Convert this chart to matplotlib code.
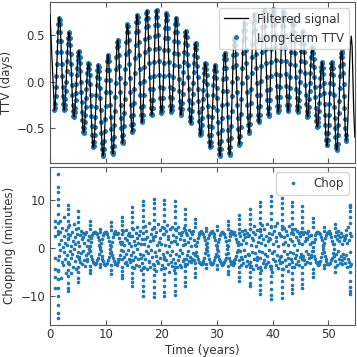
import numpy as np
import matplotlib
matplotlib.use("Agg")
import matplotlib.pyplot as plt

# long-term TTV, one value per transit (days)
ttv_first = 0.796       # years
ttv_cadence = 0.072833  # years between transits
ttv_days = [
    -0.31, -0.29, -0.24, -0.16, -0.06, 0.06, 0.19, 0.32, 0.44, 0.54, 0.62, 0.67,
    0.69, 0.67, 0.62, 0.54, 0.44, 0.32, 0.19, 0.06, -0.06, -0.16, -0.24, -0.29,
    -0.31, -0.30, -0.25, -0.19, -0.10, 0.00, 0.11, 0.22, 0.32, 0.41, 0.47, 0.52,
    0.53, 0.52, 0.47, 0.40, 0.30, 0.19, 0.08, -0.04, -0.15, -0.25, -0.32, -0.37,
    -0.38, -0.37, -0.33, -0.28, -0.20, -0.12, -0.03, 0.07, 0.15, 0.23, 0.28, 0.32,
    0.33, 0.32, 0.27, 0.20, 0.11, 0.00, -0.11, -0.22, -0.33, -0.42, -0.49, -0.54,
    -0.55, -0.54, -0.50, -0.44, -0.36, -0.27, -0.18, -0.08, 0.01, 0.09, 0.15, 0.19,
    0.20, 0.19, 0.14, 0.07, -0.03, -0.14, -0.26, -0.37, -0.48, -0.58, -0.65, -0.70,
    -0.71, -0.70, -0.65, -0.58, -0.49, -0.38, -0.27, -0.15, -0.04, 0.05, 0.12, 0.17,
    0.18, 0.16, 0.11, 0.04, -0.07, -0.18, -0.31, -0.44, -0.56, -0.66, -0.73, -0.78,
    -0.80, -0.78, -0.73, -0.64, -0.53, -0.40, -0.26, -0.11, 0.02, 0.13, 0.22, 0.27,
    0.29, 0.27, 0.22, 0.13, 0.02, -0.11, -0.25, -0.38, -0.51, -0.62, -0.71, -0.76,
    -0.78, -0.76, -0.70, -0.60, -0.47, -0.32, -0.17, -0.01, 0.14, 0.27, 0.37, 0.43,
    0.45, 0.43, 0.38, 0.29, 0.17, 0.04, -0.11, -0.25, -0.39, -0.50, -0.59, -0.65,
    -0.665, -0.64, -0.58, -0.48, -0.34, -0.19, -0.02, 0.14, 0.30, 0.43, 0.53, 0.60,
    0.62, 0.60, 0.54, 0.45, 0.33, 0.19, 0.04, -0.11, -0.25, -0.37, -0.47, -0.53,
    -0.545, -0.52, -0.46, -0.36, -0.23, -0.08, 0.09, 0.25, 0.40, 0.53, 0.64, 0.70,
    0.72, 0.70, 0.64, 0.55, 0.43, 0.29, 0.14, -0.01, -0.15, -0.27, -0.36, -0.42,
    -0.44, -0.42, -0.36, -0.26, -0.14, 0.01, 0.16, 0.32, 0.46, 0.59, 0.68, 0.74,
    0.765, 0.75, 0.69, 0.60, 0.48, 0.35, 0.20, 0.05, -0.08, -0.20, -0.29, -0.35,
    -0.365, -0.35, -0.29, -0.20, -0.08, 0.06, 0.21, 0.35, 0.49, 0.61, 0.70, 0.76,
    0.775, 0.76, 0.70, 0.61, 0.50, 0.36, 0.22, 0.07, -0.06, -0.18, -0.27, -0.32,
    -0.34, -0.32, -0.27, -0.18, -0.07, 0.06, 0.20, 0.34, 0.47, 0.58, 0.67, 0.72,
    0.74, 0.72, 0.67, 0.58, 0.47, 0.34, 0.21, 0.07, -0.06, -0.17, -0.26, -0.31,
    -0.33, -0.31, -0.26, -0.18, -0.08, 0.05, 0.18, 0.31, 0.44, 0.54, 0.62, 0.67,
    0.69, 0.67, 0.62, 0.54, 0.43, 0.30, 0.17, 0.03, -0.10, -0.21, -0.29, -0.34,
    -0.36, -0.35, -0.30, -0.23, -0.13, -0.02, 0.10, 0.21, 0.32, 0.42, 0.49, 0.54,
    0.55, 0.53, 0.48, 0.40, 0.30, 0.18, 0.05, -0.08, -0.20, -0.30, -0.38, -0.43,
    -0.45, -0.44, -0.39, -0.32, -0.23, -0.13, -0.02, 0.10, 0.20, 0.29, 0.36, 0.41,
    0.42, 0.40, 0.35, 0.27, 0.17, 0.05, -0.08, -0.21, -0.33, -0.43, -0.51, -0.56,
    -0.58, -0.57, -0.53, -0.47, -0.39, -0.29, -0.19, -0.09, 0.01, 0.09, 0.15, 0.19,
    0.20, 0.19, 0.14, 0.07, -0.03, -0.14, -0.26, -0.37, -0.48, -0.58, -0.65, -0.70,
    -0.71, -0.70, -0.65, -0.58, -0.49, -0.38, -0.27, -0.15, -0.04, 0.05, 0.12, 0.17,
    0.18, 0.16, 0.11, 0.04, -0.07, -0.18, -0.31, -0.44, -0.56, -0.66, -0.73, -0.78,
    -0.80, -0.78, -0.73, -0.64, -0.52, -0.39, -0.25, -0.10, 0.03, 0.15, 0.24, 0.29,
    0.31, 0.29, 0.24, 0.15, 0.04, -0.10, -0.24, -0.38, -0.52, -0.63, -0.72, -0.77,
    -0.79, -0.77, -0.71, -0.61, -0.48, -0.32, -0.16, 0.00, 0.16, 0.29, 0.39, 0.45,
    0.47, 0.45, 0.39, 0.30, 0.18, 0.04, -0.11, -0.25, -0.39, -0.51, -0.60, -0.66,
    -0.68, -0.66, -0.59, -0.49, -0.35, -0.19, -0.02, 0.15, 0.31, 0.45, 0.55, 0.62,
    0.64, 0.62, 0.56, 0.47, 0.34, 0.20, 0.05, -0.11, -0.25, -0.38, -0.47, -0.53,
    -0.55, -0.53, -0.46, -0.36, -0.23, -0.08, 0.09, 0.26, 0.41, 0.54, 0.64, 0.71,
    0.73, 0.71, 0.65, 0.56, 0.44, 0.30, 0.15, -0.01, -0.15, -0.27, -0.36, -0.42,
    -0.44, -0.42, -0.36, -0.26, -0.14, 0.01, 0.17, 0.32, 0.47, 0.59, 0.69, 0.75,
    0.77, 0.75, 0.69, 0.60, 0.49, 0.35, 0.20, 0.05, -0.09, -0.20, -0.29, -0.35,
    -0.37, -0.35, -0.29, -0.20, -0.08, 0.06, 0.21, 0.35, 0.49, 0.61, 0.70, 0.76,
    0.78, 0.76, 0.71, 0.62, 0.50, 0.37, 0.23, 0.08, -0.05, -0.17, -0.26, -0.31,
    -0.33, -0.31, -0.26, -0.17, -0.06, 0.07, 0.22, 0.36, 0.49, 0.60, 0.69, 0.74,
    0.76, 0.74, 0.69, 0.60, 0.49, 0.36, 0.22, 0.08, -0.05, -0.16, -0.25, -0.30,
    -0.32, -0.30, -0.25, -0.17, -0.07, 0.05, 0.19, 0.32, 0.44, 0.54, 0.62, 0.67,
    0.69, 0.67, 0.62, 0.54, 0.44, 0.31, 0.18, 0.05, -0.08, -0.18, -0.26, -0.31,
    -0.33, -0.32, -0.27, -0.20, -0.11, 0.00, 0.11, 0.22, 0.33, 0.42, 0.49, 0.54,
    0.55, 0.53, 0.49, 0.41, 0.32, 0.21, 0.09, -0.04, -0.15, -0.24, -0.32, -0.36,
    -0.38, -0.37, -0.33, -0.27, -0.19, -0.10, -0.01, 0.09, 0.18, 0.26, 0.32, 0.36,
    0.37, 0.36, 0.31, 0.24, 0.16, 0.05, -0.06, -0.17, -0.28, -0.36, -0.43, -0.48,
    -0.49, -0.48, -0.44, -0.39, -0.32, -0.23, -0.14, -0.05, 0.04, 0.11, 0.16, 0.20,
    0.21, 0.20, 0.15, 0.08, -0.02, -0.12, -0.24, -0.36, -0.47, -0.56, -0.63, -0.68,
    -0.69, -0.68, -0.63, -0.56, -0.47, -0.36, -0.24, -0.12, -0.02, 0.08, 0.15, 0.20,
    0.21, 0.19, 0.15, 0.07, -0.03, -0.14, -0.27, -0.39, -0.50, -0.60, -0.68, -0.72,
    -0.74, -0.72, -0.67, -0.58, -0.47, -0.34, -0.21, -0.07, 0.06, 0.17, 0.26, 0.31,
    0.33, 0.31, 0.27, 0.19, 0.09, -0.03, -0.16, -0.28, -0.40, -0.50, -0.58, -0.62,
    -0.64,
]

# filtered signal runs a bit past the transits at both ends
filt_head_t = [0.0]
filt_head_v = [0.72]
filt_tail_t = [53.39, 53.53, 53.68, 53.82, 53.97, 54.11, 54.26, 54.40, 54.55, 54.75]
filt_tail_v = [-0.564, -0.36, -0.075, 0.21, 0.414, 0.49, 0.38, 0.05, -0.32, -0.60]

# chopping: narrow bursts roughly every 1.9 yr
stripe_t = [0.95, 1.4, 3.3, 5.1, 7.1, 9.0, 11.0, 12.9, 14.8, 16.7, 18.6, 20.5, 22.4, 24.3,
            26.1, 28.0, 30.0, 32.0, 33.9, 35.9, 37.8, 39.7, 41.6, 43.4, 45.3, 47.3,
            49.2, 51.1, 53.8]
stripe_v = [
    [5.5, 4.3, 2.5, -2.1, -4.4, -6.0, -8.4],
    [15.4, 12.6, 11.6, 10.2, 8.9, 7.0, 5.2, 3.5, -2.5, -4.8, -6.4, -8.3, -10.0, -11.8, -13.4, -14.5],
    [9.0, 8.1, 7.0, 5.6, 4.3, 2.8, -3.0, -4.5, -5.9, -7.2, -8.3, -8.9],
    [7.6, 6.5, 5.4, 4.1, -3.9, -5.0, -6.2, -7.1],
    [5.6, 4.8, 4.0, -3.8, -4.6, -5.3],
    [4.0, 3.4, -3.3, -3.9],
    [5.4, 4.6, 3.8, -3.6, -4.5, -5.4],
    [6.4, 5.6, 4.7, 3.8, -3.9, -4.8, -5.7, -6.3],
    [8.4, 7.5, 6.4, 5.3, 4.2, -4.0, -5.2, -6.3, -7.1, -7.8],
    [9.8, 8.9, 7.8, 6.7, 5.5, 4.3, -4.1, -5.5, -6.6, -7.9, -9.0, -9.9],
    [10.2, 9.3, 8.2, 7.0, 5.7, 4.4, -4.3, -5.6, -6.9, -8.1, -9.3, -10.1],
    [10.0, 9.1, 8.0, 6.8, 5.5, 4.2, -4.2, -5.4, -6.7, -7.9, -9.1, -10.0],
    [9.8, 8.8, 7.6, 6.4, 5.1, 3.9, -4.0, -5.2, -6.5, -7.7, -8.9, -9.7],
    [8.0, 7.0, 5.9, 4.8, 3.8, -3.7, -4.8, -6.0, -7.0, -8.0],
    [6.0, 5.2, 4.4, -4.2, -5.1, -6.0],
    [4.2, 3.5, -3.4, -4.1],
    [4.5, 3.7, -3.6, -4.4],
    [5.6, 4.8, 4.0, -3.8, -4.7, -5.5],
    [6.8, 5.9, 4.9, 3.9, -4.0, -5.0, -6.0, -6.8],
    [8.1, 7.1, 6.0, 4.9, 3.9, -3.9, -5.0, -6.1, -7.2, -8.0],
    [9.6, 8.6, 7.5, 6.3, 5.1, 4.0, -4.0, -5.2, -6.4, -7.6, -8.7, -9.5],
    [10.8, 9.8, 8.6, 7.3, 6.0, 4.6, -4.4, -5.8, -7.1, -8.5, -9.7, -10.6],
    [10.4, 9.4, 8.3, 7.1, 5.8, 4.5, -4.3, -5.6, -6.9, -8.2, -9.3, -10.3],
    [9.6, 8.6, 7.5, 6.3, 5.0, 3.9, -3.9, -5.1, -6.4, -7.6, -8.6, -9.4],
    [8.6, 7.6, 6.5, 5.3, 4.2, -4.0, -5.2, -6.4, -7.5, -8.4],
    [6.2, 5.3, 4.4, -4.3, -5.2, -6.0],
    [4.3, 3.6, -3.5, -4.2],
    [5.0, 4.2, -4.0, -4.9],
    [9.0, 8.4, 7.6, 6.5, 5.2, -5.0, -6.8, -8.2, -9.0, -9.6],
]

# chopping: the dense band near zero, one value per transit (minutes)
band_first = 1.4
band_cadence = 0.0795
band_v = [
    2.8, -4.6, 0.9, -1.7, 5.6, -0.4, 3.3, -6.2, 1.6, -2.9, 4.1, 0.2, -3.6, 2.4, -0.9, 6.4, -2.2, 1.1, -5.1, 3.7, -1.4, 0.6, -3.1, 2.0,
    1.9, -3.3, 4.7, -0.6, 2.6, -2.1, 0.3, -5.3, 3.4, -1.2, 1.4, -3.9, 5.0, -0.2, 2.2, -2.7, 0.8, -4.4, 3.9, -1.6, 2.9, -0.9, 1.2, -2.4,
    0.5, -1.9, 2.7, -2.9, 3.6, -1.1, 1.8, -3.4, 2.3, -0.7, 3.1, -2.5, 1.0, -3.7, 2.9, -1.5, 3.4, -2.2, 0.4, -2.8, 1.7, -1.0, 2.4, -0.3,
    0.3, -0.7, 1.2, -1.6, 2.0, -2.3, 2.6, -2.9, 3.1, -3.2, 3.4, -3.4, 3.4, -3.4, 3.2, -3.1, 2.9, -2.6, 2.3, -2.0, 1.6, -1.2, 0.7, -0.3,
    0.2, -0.7, 1.1, -1.6, 1.9, -2.3, 2.6, -2.8, 3.1, -3.3, 3.4, -3.5, 3.4, -3.3, 3.3, -3.1, 2.8, -2.6, 2.3, -1.9, 1.5, -1.1, 0.7, -0.2,
    0.4, -0.9, 1.3, -1.5, 2.2, -2.1, 2.8, -2.7, 3.0, -3.3, 3.6, -3.1, 3.2, -3.5, 2.9, -3.0, 3.1, -2.4, 2.0, -2.2, 1.3, -1.4, 0.9, -0.4,
    1.2, -2.4, 2.9, -0.6, 3.5, -1.8, 0.7, -3.2, 2.1, -2.9, 3.8, -1.3, 1.6, -3.6, 2.6, -0.4, 3.2, -2.2, 1.1, -3.0, 2.4, -1.5, 0.5, -2.6,
    2.5, -0.8, 3.9, -2.6, 1.4, -4.2, 0.6, -1.9, 3.1, -3.5, 2.0, -0.3, 4.4, -2.3, 1.1, -3.8, 2.7, -1.2, 3.5, -4.6, 0.9, -2.0, 1.8, -3.1,
    3.2, -1.5, 0.8, -3.9, 4.6, -2.4, 1.9, -0.7, 3.6, -4.4, 2.3, -1.1, 0.4, -3.0, 5.1, -2.7, 1.5, -4.0, 2.8, -0.5, 3.9, -1.8, 2.2, -3.4,
    1.7, -3.6, 4.2, -0.9, 2.5, -4.8, 3.3, -1.6, 0.7, -2.8, 4.9, -3.2, 1.3, -0.4, 3.7, -2.1, 2.0, -4.3, 0.9, -3.5, 4.4, -1.2, 2.9, -2.4,
    2.9, -1.9, 0.6, -4.1, 3.6, -2.6, 4.7, -0.8, 1.8, -3.3, 2.4, -5.0, 0.3, -1.5, 3.9, -2.9, 1.2, -3.8, 4.3, -0.6, 2.6, -2.2, 1.5, -4.5,
    1.4, -3.1, 3.8, -1.3, 2.2, -4.0, 0.8, -2.5, 4.4, -1.7, 3.0, -3.6, 1.9, -0.5, 2.7, -3.9, 3.4, -1.0, 0.6, -2.8, 4.1, -2.3, 1.6, -3.3,
    0.9, -2.2, 3.1, -1.5, 2.6, -3.4, 1.3, -0.6, 3.7, -2.8, 2.0, -1.8, 3.3, -3.0, 0.5, -2.4, 2.8, -1.1, 3.5, -2.6, 1.6, -3.2, 0.7, -1.4,
    0.3, -0.8, 1.2, -1.7, 2.0, -2.4, 2.6, -2.9, 3.1, -3.2, 3.4, -3.3, 3.5, -3.4, 3.2, -3.1, 2.9, -2.7, 2.3, -2.0, 1.6, -1.1, 0.8, -0.2,
    0.2, -0.7, 1.1, -1.5, 2.0, -2.3, 2.6, -2.9, 3.0, -3.3, 3.4, -3.4, 3.5, -3.3, 3.2, -3.1, 2.9, -2.6, 2.2, -1.9, 1.6, -1.2, 0.6, -0.3,
    0.3, -0.7, 1.2, -1.6, 1.9, -2.3, 2.7, -2.8, 3.1, -3.2, 3.3, -3.5, 3.4, -3.3, 3.2, -3.0, 2.8, -2.6, 2.3, -2.0, 1.5, -1.2, 0.7, -0.2,
    0.5, -1.1, 1.6, -2.0, 2.5, -2.7, 3.0, -3.3, 3.5, -2.9, 3.2, -3.6, 2.8, -3.1, 3.4, -2.5, 2.6, -2.2, 1.9, -1.7, 1.3, -0.9, 0.6, -0.4,
    1.3, -2.6, 3.2, -0.7, 2.4, -3.5, 0.9, -1.8, 3.6, -2.3, 1.7, -3.1, 2.9, -0.4, 3.8, -1.6, 2.2, -3.7, 1.0, -2.7, 3.0, -1.2, 2.5, -3.3,
    2.6, -1.4, 4.0, -2.9, 0.7, -3.8, 2.1, -0.9, 3.4, -4.3, 1.6, -2.2, 4.5, -1.0, 2.8, -3.5, 0.5, -2.6, 3.7, -1.9, 1.2, -4.1, 2.3, -0.6,
    3.5, -2.0, 1.1, -4.5, 2.7, -0.8, 4.8, -3.1, 1.8, -2.5, 3.9, -1.3, 0.6, -4.0, 2.4, -3.4, 5.0, -1.7, 1.4, -2.9, 3.2, -0.5, 2.1, -3.8,
    1.9, -3.7, 4.3, -1.1, 2.9, -4.9, 0.8, -2.2, 3.6, -0.6, 4.6, -2.8, 1.5, -3.5, 2.3, -1.4, 5.2, -4.2, 0.4, -2.6, 3.1, -1.9, 2.7, -3.2,
    2.4, -1.6, 3.9, -3.0, 0.9, -4.4, 2.2, -0.7, 4.1, -2.5, 1.3, -3.8, 3.5, -1.2, 2.6, -4.7, 0.6, -2.0, 4.5, -3.3, 1.8, -0.9, 3.0, -2.3,
    1.5, -2.9, 3.3, -1.0, 2.8, -3.9, 0.7, -2.1, 4.0, -1.5, 2.2, -3.4, 3.6, -0.4, 1.7, -2.7, 3.1, -3.6, 1.1, -1.9, 2.5, -1.2, 3.4, -2.4,
    0.8, -2.3, 2.9, -1.6, 3.4, -2.6, 1.4, -3.3, 2.1, -0.7, 3.2, -2.9, 1.8, -1.2, 3.6, -2.0, 2.5, -3.1, 0.9, -1.8, 2.7, -1.4, 1.3, -0.6,
    0.2, -0.7, 1.2, -1.6, 1.9, -2.3, 2.6, -2.9, 3.1, -3.2, 3.4, -3.5, 3.4, -3.4, 3.2, -3.0, 2.8, -2.7, 2.3, -1.9, 1.6, -1.1, 0.7, -0.3,
    0.3, -0.8, 1.1, -1.6, 2.0, -2.2, 2.7, -2.8, 3.0, -3.3, 3.3, -3.4, 3.5, -3.3, 3.1, -3.1, 2.8, -2.6, 2.2, -2.0, 1.5, -1.1, 0.8, -0.2,
    0.9, -1.7, 2.4, -2.8, 3.3, -1.2, 1.9, -3.5, 2.7, -0.6, 3.6, -2.3, 1.4, -3.1, 2.2, -1.6, 3.0, -2.6, 0.8, -3.4, 2.5, -1.3, 1.7, -2.1,
    2.1, -3.2, 3.8, -1.4, 2.7, -4.0, 1.0, -2.4, 4.3, -2.9, 1.6, -3.7, 3.1, -0.8, 2.4, -3.3,
]

ttv_t = ttv_first + ttv_cadence * np.arange(len(ttv_days))
filt_t = np.concatenate([filt_head_t, ttv_t, filt_tail_t])
filt_v = np.concatenate([filt_head_v, ttv_days, filt_tail_v])

band_t = band_first + band_cadence * np.arange(len(band_v))
chop_t = np.concatenate([band_t, np.repeat(stripe_t, [len(s) for s in stripe_v])])
chop_v = np.concatenate([band_v, np.concatenate(stripe_v)])

plt.rcParams.update({
    "font.size": 8.5,
    "text.color": "0.2",
    "axes.labelcolor": "0.2",
    "axes.edgecolor": "0.35",
    "xtick.color": "0.35",
    "ytick.color": "0.35",
    "xtick.labelcolor": "0.2",
    "ytick.labelcolor": "0.2",
    "xtick.major.pad": 2.5,
})

fig = plt.figure(figsize=(3.57, 3.57), dpi=100)
ax1 = fig.add_axes([0.140, 0.5434, 0.854, 0.451])
ax2 = fig.add_axes([0.140, 0.0896, 0.854, 0.444], sharex=ax1)

ax1.plot(filt_t, filt_v, color="black", lw=0.9, zorder=3, label="Filtered signal")
ax1.plot(ttv_t, ttv_days, "o", color="C0", ms=3.6, mew=0, zorder=2, label="Long-term TTV")
ax1.set_ylabel("TTV (days)", labelpad=3)
ax1.legend(loc="upper right")

ax2.plot(chop_t, chop_v, "o", color="C0", ms=2.6, mew=0, label="Chop")
ax2.set_ylabel("Chopping (minutes)", labelpad=3)
ax2.set_xlabel("Time (years)", labelpad=2)
ax2.legend(loc="upper right")

ax1.set_xlim(0, 54.75)
for ax in (ax1, ax2):
    ax.tick_params(direction="in", top=True)
ax1.tick_params(labelbottom=False)

fig.savefig("out.png", dpi=100)
